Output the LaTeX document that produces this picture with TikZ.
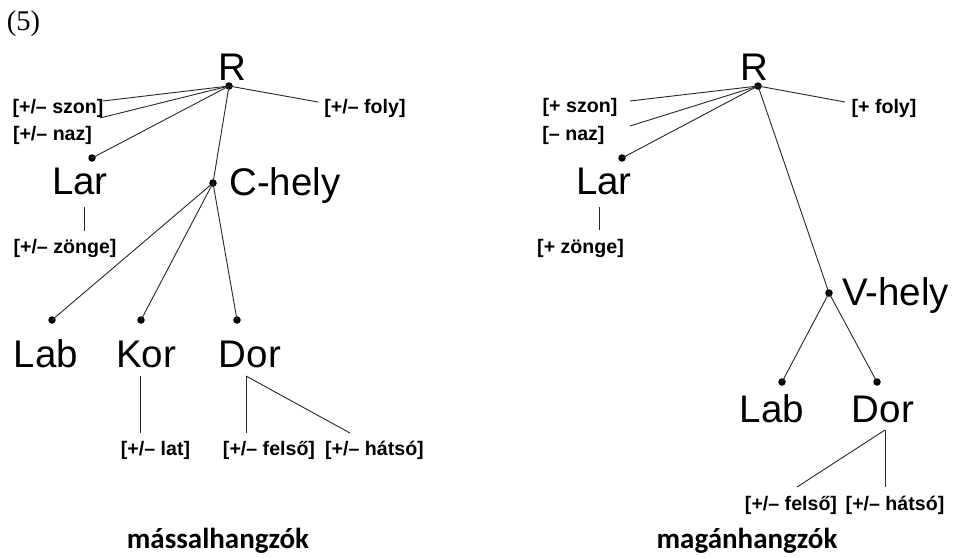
\documentclass[tikz,border=0pt]{standalone}
\usepackage{fontspec}
\setmainfont{Liberation Sans}
\newfontfamily\numfont{Liberation Serif}
\newfontfamily\titlefont{Carlito}
\begin{document}
\begin{tikzpicture}[x=1pt,y=-1pt,
  big/.style={font=\fontsize{38.5}{40}\selectfont, inner sep=0, anchor=base},
  feat/.style={font=\fontsize{19.6}{21}\selectfont\bfseries, inner sep=0, text height=14.3pt, text depth=4.1pt},
  dot/.style={circle, fill=black, inner sep=0, minimum size=7.5pt},
  edge/.style={draw=black!85, line width=0.9pt},
  title/.style={font=\titlefont\fontsize{29}{31}\selectfont\bfseries, inner sep=0, anchor=base}]
\useasboundingbox (0,0) rectangle (953,557);
\node[font=\numfont\fontsize{28.5}{30}\selectfont, inner sep=0] (num) at (23.5,24) {(5)};

% ---------- left tree ----------
\node[big] (R1) at (232,80) {R};
\node[dot] (r1) at (229,86) {};
\node[feat] (szon1) at (58,108) {[+/– szon]};
\coordinate (szon1e) at (103,101);
\node[feat] (naz1) at (52.5,135.5) {[+/– naz]};
\coordinate (naz1e) at (100,118);
\node[dot] (lar1d) at (92,158) {};
\node[big] (lar1) at (80,194) {Lar};
\node[feat] (foly1) at (365,108.5) {[+/– foly]};
\coordinate (foly1e) at (318,102);
\node[dot] (c1) at (213,183) {};
\node[big, anchor=base west] (chely) at (229,195) {C-hely};
\coordinate (zon1a) at (84,207);
\coordinate (zon1b) at (84,231);
\node[feat] (zonge1) at (65,248) {[+/– zönge]};
\node[dot] (lab1d) at (52,320) {};
\node[dot] (kor1d) at (141,320) {};
\node[dot] (dor1d) at (237,320) {};
\node[big] (lab1) at (46,367) {Lab};
\node[big] (kor1) at (146,367) {Kor};
\node[big] (dor1) at (250,367) {Dor};
\coordinate (lat1a) at (140,376);
\coordinate (lat1b) at (140,433);
\node[feat] (lat1) at (155.5,450.5) {[+/– lat]};
\coordinate (dor1a) at (246,376);
\coordinate (fel1b) at (246,433);
\coordinate (hat1b) at (350,433);
\node[feat] (fel1) at (269,450.5) {[+/– felső]};
\node[feat] (hat1) at (374.5,450.5) {[+/– hátsó]};
\node[title] (t1) at (218,548) {mássalhangzók};

\draw[edge] (r1.center) -- (szon1e);
\draw[edge] (r1.center) -- (naz1e);
\draw[edge] (r1.center) -- (lar1d.center);
\draw[edge] (r1.center) -- (foly1e);
\draw[edge] (r1.center) -- (c1.center);
\draw[edge] (zon1a) -- (zon1b);
\draw[edge] (c1.center) -- (lab1d.center);
\draw[edge] (c1.center) -- (kor1d.center);
\draw[edge] (c1.center) -- (dor1d.center);
\draw[edge] (lat1a) -- (lat1b);
\draw[edge] (dor1a) -- (fel1b);
\draw[edge] (dor1a) -- (hat1b);

% ---------- right tree ----------
\node[big] (R2) at (754,80) {R};
\node[dot] (r2) at (758,86) {};
\node[feat] (szon2) at (580,107) {[+ szon]};
\coordinate (szon2e) at (630,101);
\node[feat] (naz2) at (573.5,135) {[– naz]};
\coordinate (naz2e) at (630,126);
\node[dot] (lar2d) at (622,158) {};
\node[big] (lar2) at (604,194) {Lar};
\node[feat] (foly2) at (884,108) {[+ foly]};
\coordinate (foly2e) at (845,102);
\coordinate (zon2a) at (599,207);
\coordinate (zon2b) at (599,230);
\node[feat] (zonge2) at (580.5,248) {[+ zönge]};
\node[dot] (v2) at (829,293) {};
\node[big, anchor=base west] (vhely) at (842,305) {V-hely};
\node[dot] (lab2d) at (782,382) {};
\node[dot] (dor2d) at (877,382) {};
\node[big] (lab2) at (772,422) {Lab};
\node[big] (dor2) at (883,422) {Dor};
\coordinate (dor2a) at (885,430);
\coordinate (hat2b) at (885,487);
\coordinate (fel2b) at (797,487);
\node[feat] (fel2) at (791,505.5) {[+/– felső]};
\node[feat] (hat2) at (895,505.5) {[+/– hátsó]};
\node[title] (t2) at (747,548) {magánhangzók};

\draw[edge] (r2.center) -- (szon2e);
\draw[edge] (r2.center) -- (naz2e);
\draw[edge] (r2.center) -- (lar2d.center);
\draw[edge] (r2.center) -- (foly2e);
\draw[edge] (r2.center) -- (v2.center);
\draw[edge] (zon2a) -- (zon2b);
\draw[edge] (v2.center) -- (lab2d.center);
\draw[edge] (v2.center) -- (dor2d.center);
\draw[edge] (dor2a) -- (hat2b);
\draw[edge] (dor2a) -- (fel2b);
\end{tikzpicture}
\end{document}
